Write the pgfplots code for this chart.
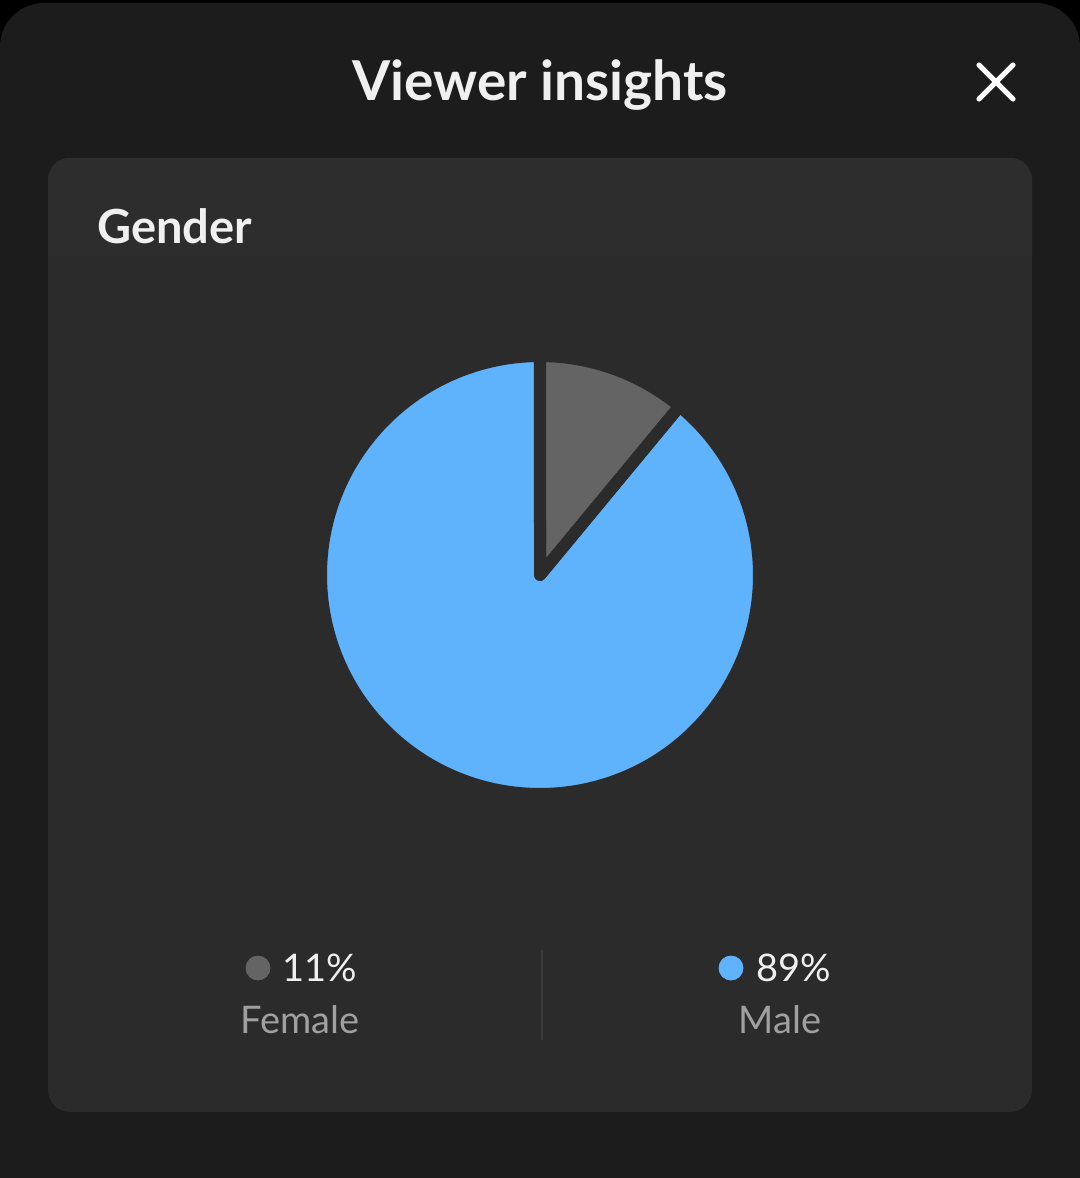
\documentclass[border=0pt]{standalone}
\usepackage{pgfplots}
\pgfplotsset{compat=1.18}
\usepackage{pgfplotstable}
\usepackage{fontspec}
\setmainfont{Lato}
\definecolor{outerbg}{HTML}{000000}
\definecolor{panelbg}{HTML}{1C1C1C}
\definecolor{cardbg}{HTML}{2B2B2B}
\definecolor{cardhead}{HTML}{2D2D2D}
\definecolor{maleblue}{HTML}{5FB3FC}
\definecolor{femalegray}{HTML}{646464}
\definecolor{labelgray}{HTML}{A0A0A0}
\definecolor{divider}{HTML}{3A3A3A}
\definecolor{txt}{HTML}{F0F0F0}

\pgfplotstableread{
label value
Female 11
Male 89
}\gendertable

\begin{document}
\begin{tikzpicture}
\pgfplotstablegetelem{0}{value}\of\gendertable \let\vF\pgfplotsretval
\pgfplotstablegetelem{1}{value}\of\gendertable \let\vM\pgfplotsretval
\pgfmathsetmacro\fF{\vF/(\vF+\vM)}
\pgfmathsetmacro\fM{\vM/(\vF+\vM)}
\pgfmathsetmacro\aF{90-360*\fF}
\pgfmathsetmacro\aM{\aF-360*\fM}
\begin{axis}[
  scale only axis, width=540pt, height=589pt,
  xmin=0, xmax=1080, ymin=0, ymax=1178, y dir=reverse,
  hide axis, clip=false,
]
% backgrounds
\fill[outerbg] (axis cs:0,0) rectangle (axis cs:1080,1178);
\fill[panelbg] (axis cs:0,1178) [rounded corners=22pt] -- (axis cs:0,3) -- (axis cs:1080,3) [sharp corners] -- (axis cs:1080,1178) -- cycle;
\fill[cardbg, rounded corners=11pt] (axis cs:48,158) rectangle (axis cs:1032,1112);
\fill[cardhead] (axis cs:48,256) [rounded corners=11pt] -- (axis cs:48,158) -- (axis cs:1032,158) [sharp corners] -- (axis cs:1032,256) -- cycle;

% title and close
\node[anchor=base, text=txt, font=\fontsize{27.5}{31}\selectfont\bfseries] at (axis cs:540,100) {Viewer insights};
\draw[white, line width=2.6pt, line cap=round] (axis cs:979,65) -- (axis cs:1013,99);
\draw[white, line width=2.6pt, line cap=round] (axis cs:1013,65) -- (axis cs:979,99);

\node[anchor=base west, inner sep=0pt, text=txt, font=\fontsize{23.5}{27}\selectfont\bfseries] at (axis cs:97,243) {Gender};

% pie
\fill[maleblue] (axis cs:540,575) -- ++(\aF:109.5pt) arc[start angle=\aF, end angle=\aM, radius=109.5pt] -- cycle;
\fill[femalegray] (axis cs:540,575) -- ++(90:109.5pt) arc[start angle=90, end angle=\aF, radius=109.5pt] -- cycle;
\draw[cardbg, line width=6pt, line join=round] (axis cs:540,575) -- ++(\aF:109.5pt) arc[start angle=\aF, end angle=\aM, radius=109.5pt] -- cycle;
\draw[cardbg, line width=6pt, line join=round] (axis cs:540,575) -- ++(90:109.5pt) arc[start angle=90, end angle=\aF, radius=109.5pt] -- cycle;

% legend
\addplot[only marks, mark=*, mark size=6pt, color=femalegray] coordinates {(258,968)};
\addplot[only marks, mark=*, mark size=6pt, color=maleblue] coordinates {(731,968)};
\node[anchor=base west, inner sep=0pt, text=txt, font=\fontsize{19}{23}\selectfont] at (axis cs:282,981) {\vF\%};
\node[anchor=base west, inner sep=0pt, text=txt, font=\fontsize{19}{23}\selectfont] at (axis cs:756,981) {\vM\%};
\node[anchor=base, inner sep=0pt, text=labelgray, font=\fontsize{19}{23}\selectfont] at (axis cs:300,1033) {Female};
\node[anchor=base, inner sep=0pt, text=labelgray, font=\fontsize{19}{23}\selectfont] at (axis cs:780,1033) {Male};
\draw[divider, line width=1pt] (axis cs:542,950) -- (axis cs:542,1040);
\end{axis}
\end{tikzpicture}
\end{document}
